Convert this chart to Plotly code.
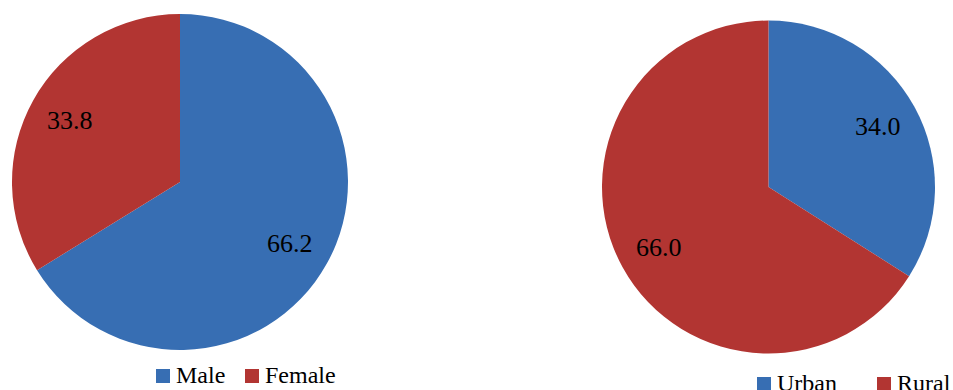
import math
import plotly.graph_objects as go

sex_labels = ["Male", "Female"]
sex_values = [66.2, 33.8]
area_labels = ["Urban", "Rural"]
area_values = [34.0, 66.0]
colors = ["#376EB3", "#B23532"]

W, H = 953, 390
FONT = "Liberation Serif"

# pie placements (pixels): center x, center y (from top), radius
left = dict(cx=180, cy=182, r=168)
right = dict(cx=768.5, cy=187, r=166.5)

# legend placements (pixels): swatch left x per item, swatch top y, text gap
left_legend = dict(xs=[156, 245], top=369, gap=5)
right_legend = dict(xs=[757, 877], top=377, gap=5)


def domain(p):
    return dict(
        x=[(p["cx"] - p["r"]) / W, (p["cx"] + p["r"]) / W],
        y=[(H - p["cy"] - p["r"]) / H, (H - p["cy"] + p["r"]) / H],
    )


fig = go.Figure()
fig.add_trace(go.Pie(
    labels=sex_labels, values=sex_values, sort=False, direction="clockwise",
    rotation=0, marker=dict(colors=colors, line=dict(width=0)),
    textinfo="none", hoverinfo="label+value", domain=domain(left),
    showlegend=False,
))
fig.add_trace(go.Pie(
    labels=area_labels, values=area_values, sort=False, direction="clockwise",
    rotation=0, marker=dict(colors=colors, line=dict(width=0)),
    textinfo="none", hoverinfo="label+value", domain=domain(right),
    showlegend=False,
))

annotations = []
shapes = []
for p, vals in ((left, sex_values), (right, area_values)):
    total = sum(vals)
    start = 90.0
    for v in vals:
        sweep = 360.0 * v / total
        mid = math.radians(start - sweep / 2)
        start -= sweep
        px = p["cx"] + 0.75 * p["r"] * math.cos(mid)
        py = p["cy"] - 0.75 * p["r"] * math.sin(mid)
        annotations.append(dict(
            x=px / W, y=(H - py) / H, xref="paper", yref="paper",
            text=f"{v:.1f}", showarrow=False, xanchor="center", yanchor="middle",
            font=dict(family=FONT, size=26, color="black"),
        ))

SW = 14
for lg, labels in ((left_legend, sex_labels), (right_legend, area_labels)):
    for i, lab in enumerate(labels):
        x0 = lg["xs"][i]
        y0 = lg["top"]
        shapes.append(dict(
            type="rect", xref="paper", yref="paper",
            x0=x0 / W, x1=(x0 + SW) / W, y0=(H - y0 - SW) / H, y1=(H - y0) / H,
            fillcolor=colors[i], line=dict(width=0),
        ))
        annotations.append(dict(
            x=(x0 + SW + lg["gap"]) / W, y=(H - y0 - SW / 2 + 1) / H,
            xref="paper", yref="paper", text=lab, showarrow=False,
            xanchor="left", yanchor="middle", borderpad=0,
            font=dict(family=FONT, size=24, color="black"),
        ))

fig.update_layout(
    width=W, height=H, margin=dict(l=0, r=0, t=0, b=0, autoexpand=False),
    paper_bgcolor="white", plot_bgcolor="white",
    showlegend=False,
    annotations=annotations, shapes=shapes,
)

fig.write_html("out.html")
